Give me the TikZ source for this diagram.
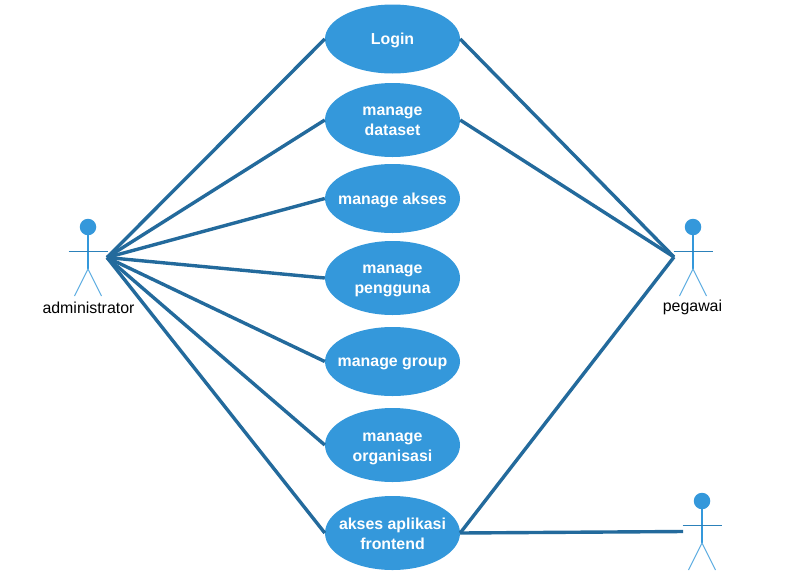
\documentclass[tikz,border=0pt]{standalone}
\usepackage{fontspec}
\setmainfont{Liberation Sans}
\usetikzlibrary{shapes.geometric}
\definecolor{ucblue}{HTML}{3498DB}
\definecolor{linkblue}{HTML}{236A9C}
\definecolor{legblue}{HTML}{5DADE2}
\tikzset{
  usecase/.style={ellipse,fill=ucblue,draw=none,inner sep=0pt,minimum width=135pt},
  small/.style={usecase,minimum height=69pt},
  tall/.style={usecase,minimum height=74pt},
  usecasetext/.style={align=center,inner sep=0pt,text=white,font=\fontsize{15.9}{20}\selectfont\bfseries},
  link/.style={draw=linkblue,line width=3.4pt},
  actorline/.style={draw=ucblue,line width=1.3pt},
  actorarm/.style={draw=ucblue!85!black,line width=1pt},
  actorleg/.style={draw=legblue,line width=1pt},
  actorhead/.style={circle,fill=ucblue,draw=none,minimum size=16.5pt,inner sep=0pt},
  actorlabel/.style={text=black,font=\fontsize{15.9}{17}\selectfont,inner sep=0pt}
}
\newcommand{\actorfig}[3]{%
  \node[actorhead] (#1head) at (#2,#3) {};
  \coordinate (#1neck) at (#2,#3+8);
  \coordinate (#1hip) at (#2,#3+42);
  \coordinate (#1larm) at (#2-19.5,#3+24);
  \coordinate (#1rarm) at (#2+19.5,#3+24);
  \coordinate (#1lfoot) at (#2-13.5,#3+69);
  \coordinate (#1rfoot) at (#2+13.5,#3+69);
  \draw[actorline] (#1neck) -- (#1hip);
  \draw[actorarm] (#1larm) -- (#1rarm);
  \draw[actorleg] (#1lfoot) -- (#1hip) -- (#1rfoot);
}
\begin{document}
\begin{tikzpicture}[x=1pt,y=-1pt]
\useasboundingbox (0,0) rectangle (810,573);
\fill[white] (0,0) rectangle (810,573);
\actorfig{adm}{88}{227}
\actorfig{peg}{693}{227}
\actorfig{third}{702}{501}
\coordinate (admlink) at (107,257.5);
\coordinate (peglink) at (674,257);
\coordinate (thirdlink) at (683,531.5);
\node[actorlabel] (admlabel) at (88.5,307.5) {administrator};
\node[actorlabel] (peglabel) at (692.5,307.5) {pegawai};
\foreach \n/\cy/\ty/\sty/\txt in {
  login/39/40.5/small/{Login},
  dataset/120/121/tall/{manage\\dataset},
  akses/198.5/200.5/small/{manage akses},
  pengguna/278/281/tall/{manage\\pengguna},
  group/361.5/363.5/small/{manage group},
  organisasi/445/449/tall/{manage\\organisasi},
  frontend/533/534/tall/{akses aplikasi\\frontend}}
{
  \node[\sty] (\n) at (392.5,\cy) {};
  \node[usecasetext] (\n text) at (392.5,\ty) {\txt};
}
\foreach \n in {login,dataset,akses,pengguna,group,organisasi,frontend}
  \draw[link] (admlink) -- (\n.west);
\foreach \n in {login,dataset,frontend}
  \draw[link] (peglink) -- (\n.east);
\draw[link] (frontend.east) -- (thirdlink);
\end{tikzpicture}
\end{document}
